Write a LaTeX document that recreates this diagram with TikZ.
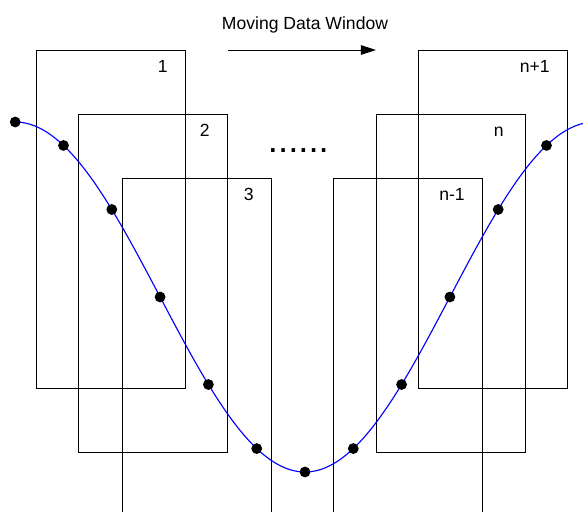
\documentclass[tikz,border=0pt]{standalone}
\usepackage{fontspec}
\setmainfont{Liberation Sans}
\usetikzlibrary{arrows.meta}

\begin{document}
\begin{tikzpicture}[every node/.style={font=\fontsize{12.5}{15}\selectfont},
    win/.style={draw, line width=0.7pt, minimum width=3.725cm, minimum height=8.46cm, anchor=north west, inner sep=0pt},
    num/.style={anchor=base east, inner sep=0pt},
    pt/.style={circle, fill, inner sep=0pt, minimum size=2.7mm}]
        \useasboundingbox (0,0) rectangle (14.575,12.775);
        \clip (0,0) rectangle (14.575,12.775);
        % windows
        \node[win] (w1) at (0.9,11.525) {};
        \node[win] (w2) at (1.95,9.925) {};
        \node[win] (w3) at (3.05,8.325) {};
        \node[win] (wm) at (8.325,8.325) {};
        \node[win] (wn) at (9.4,9.925) {};
        \node[win] (wp) at (10.45,11.525) {};
        \node[num] (l1) at ([xshift=-0.45cm, yshift=-0.57cm]w1.north east) {1};
        \node[num] (l2) at ([xshift=-0.45cm, yshift=-0.57cm]w2.north east) {2};
        \node[num] (l3) at ([xshift=-0.45cm, yshift=-0.57cm]w3.north east) {3};
        \node[num] (lm) at ([xshift=-0.45cm, yshift=-0.57cm]wm.north east) {n-1};
        \node[num] (ln) at ([xshift=-0.55cm, yshift=-0.57cm]wn.north east) {n};
        \node[num] (lp) at ([xshift=-0.45cm, yshift=-0.57cm]wp.north east) {n+1};
        % title and arrow
        \node[anchor=base] (title) at (7.625,12.04) {Moving Data Window};
        \draw[line width=0.7pt, -{Triangle[length=3.8mm, width=2.4mm]}] (w2.north east |- w1.north) -- (wn.north west |- w1.north);
        \node[anchor=base, font=\fontsize{26}{30}\selectfont] (dots) at (7.46,8.975) {......};
        % data curve
        \draw[blue, line width=0.8pt] plot[domain=0.375:14.6, samples=120, smooth] (\x, {5.35-4.375*cos((\x-7.625)*24.845)});
        \foreach \i in {0,...,11}
            \node[pt] (p\i) at ({7.625+(\i-6)*1.2075}, {5.35-4.375*cos((\i-6)*30)}) {};
    \end{tikzpicture}
\end{document}
